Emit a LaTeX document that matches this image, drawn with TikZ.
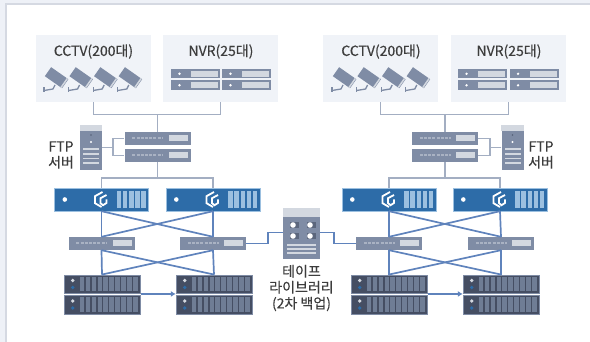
\documentclass[tikz,border=0pt]{standalone}
\usepackage{fontspec}
\setmainfont{Noto Sans CJK KR}[FakeBold=0.35]
\usetikzlibrary{arrows.meta}
\usetikzlibrary{positioning}
\usetikzlibrary{calc}

\definecolor{stripcol}{HTML}{EEF1F7}
\definecolor{edgecol}{HTML}{D5D9E2}
\definecolor{panelcol}{HTML}{F0F3F8}
\definecolor{greycol}{HTML}{7F8CA5}
\definecolor{palecol}{HTML}{D3D8E0}
\definecolor{linecol}{HTML}{A3AEC2}
\definecolor{bluecol}{HTML}{2D6CA8}
\definecolor{slotcol}{HTML}{9CC0E0}
\definecolor{wirecol}{HTML}{5F83BC}
\definecolor{darkcol}{HTML}{454E63}
\definecolor{baycol}{HTML}{6F7D95}
\definecolor{textcol}{HTML}{3D3D3D}

\tikzset{
	panel/.style={fill=panelcol,draw=none,minimum width=115pt,minimum height=67pt,inner sep=0pt},
	title/.style={text=textcol,font=\fontsize{14}{16}\selectfont,inner sep=0pt},
	caption/.style={text=textcol,font=\fontsize{14}{16}\selectfont,inner sep=0pt,align=center},
	greywire/.style={draw=linecol,line width=1.8pt},
	bluewire/.style={draw=wirecol,line width=1.7pt},
	switchbox/.style={fill=greycol,minimum width=66pt,minimum height=13pt,inner sep=0pt},
	bladebox/.style={fill=bluecol,draw=slotcol,line width=.4pt,minimum width=94pt,minimum height=23pt,inner sep=0pt},
	rackbox/.style={fill=darkcol,draw=greycol,line width=.4pt,minimum width=76pt,minimum height=18.5pt,inner sep=0pt},
	towerbox/.style={fill=greycol,minimum width=22pt,minimum height=45pt,inner sep=0pt},
	tapebox/.style={fill=greycol,minimum width=37pt,minimum height=51pt,inner sep=0pt}
}

% camera with its bracket
\newcommand{\camera}[2]{
	\begin{scope}[shift={(#1,#2)}]
		\fill[greycol,rotate=-35] (-11,-5.5) rectangle (10,5.5);
		\fill[palecol,rotate=-35] (8,-5.5) rectangle (9.5,5.5);
		\draw[greycol,line width=1.3pt] (-2,7) -- (-4,11) -- (-13,12.5);
		\draw[greycol,line width=1.3pt] (-13,9.5) -- (-13,14);
	\end{scope}
}
% small recorder
\newcommand{\recorder}[2]{
	\begin{scope}[shift={(#1,#2)}]
		\fill[greycol] (0,0) rectangle (49,9.5);
		\fill[white] (8.5,4.8) circle (1.3);
		\fill[palecol] (20,1.8) rectangle (47,7.7);
	\end{scope}
}
\newcommand{\switchbox}[3]{
	\node[switchbox] (#1) at (#2,#3) {};
	\fill[palecol] ($(#1.east)+(-22,-3)$) rectangle ($(#1.east)+(-3,3)$);
	\draw[palecol!50!greycol,line width=2pt,dash pattern=on 3pt off 1.2pt] ($(#1.west)+(8,0)$) -- ($(#1.west)+(39,0)$);
}
\newcommand{\bladebox}[3]{
	\node[bladebox] (#1) at (#2,#3) {};
	\fill[white] ($(#1.west)+(10.5,0)$) circle (2.3);
	\draw[white,line width=1.8pt] ($(#1.center)+(1,-7.5)$) -- ++(-7.5,4.2) -- ++(0,7) -- ++(6.5,3.8);
	\draw[white,line width=1.8pt] ($(#1.center)+(5,-4.5)$) -- ++(-6,3.2) -- ++(0,5) -- ++(2.5,2) -- ++(3.5,-2.2) -- ++(0,-3.5);
	\foreach \k in {0,1,2,3,4}
		\fill[slotcol] ($(#1.east)+(-32+\k*6.15,-8.5)$) rectangle ++(4.6,17);
}
\newcommand{\rackbox}[3]{
	\node[rackbox] (#1) at (#2,#3) {};
	\fill[palecol] ($(#1.west)+(9,-3.5)$) circle (1.9);
	\fill[bluecol] ($(#1.west)+(9,3.5)$) circle (1.9);
	\foreach \k in {0,...,9}
		\fill[baycol] ($(#1.west)+(16+\k*5.9,-7.2)$) rectangle ++(4.6,14.4);
}
\newcommand{\towerbox}[3]{
	\node[towerbox] (#1) at (#2,#3) {};
	\fill[palecol] ($(#1.north west)$) rectangle ($(#1.north east)+(0,6.5)$);
	\fill[darkcol!70!greycol] ($(#1.center)+(0,-12.5)$) circle (.8);
	\fill[white] ($(#1.center)+(0,-5.5)$) circle (1.1);
	\foreach \k in {0,1,2,3}
		\fill[palecol] ($(#1.center)+(-8,1+\k*4.6)$) rectangle ++(16,1.7);
}

\begin{document}
\begin{tikzpicture}[x=1pt,y=-1pt]
	\useasboundingbox (0,0) rectangle (590,342);
	% frame strips
	\fill[stripcol] (0,0) rectangle (590,3.5);
	\fill[stripcol] (0,0) rectangle (5,342);
	\fill[edgecol] (5,3.5) rectangle (590,5.5);
	\fill[edgecol] (5,3.5) rectangle (7,342);

	% panels
	\node[panel] (cctvL) at (93.5,68.5) {};
	\node[panel] (nvrL) at (220.5,68.5) {};
	\node[panel] (cctvR) at (380.5,68.5) {};
	\node[panel] (nvrR) at (508.5,68.5) {};
	\node[title] (cctvLt) at (93.5,51.5) {CCTV(200대)};
	\node[title] (nvrLt) at (221,51.5) {NVR(25대)};
	\node[title] (cctvRt) at (381,51.5) {CCTV(200대)};
	\node[title] (nvrRt) at (509,51.5) {NVR(25대)};
	\foreach \x in {0,1,2,3} {
		\camera{57+\x*24.6}{78}
		\camera{345+\x*24.6}{78}
	}
	\foreach \x/\y in {171/69,222/69,171/80.5,222/80.5,458/69,509.5/69,458/80.5,509.5/80.5} {
		\recorder{\x}{\y}
	}

	% switches, servers
	\switchbox{swaL}{157.5}{138.5}
	\switchbox{swbL}{157.5}{155.5}
	\switchbox{swaR}{445}{138.5}
	\switchbox{swbR}{445}{155.5}
	\towerbox{ftpL}{91}{147.5}
	\towerbox{ftpR}{512.5}{147.5}
	\bladebox{bladeaL}{101.5}{199.5}
	\bladebox{bladebL}{213}{199.5}
	\bladebox{bladeaR}{389}{199.5}
	\bladebox{bladebR}{500}{199.5}
	\switchbox{lanaL}{101.5}{243.5}
	\switchbox{lanbL}{213}{243.5}
	\switchbox{lanaR}{389}{243.5}
	\switchbox{lanbR}{501}{243.5}
	\rackbox{rackaL}{102}{284}
	\rackbox{rackbL}{102}{304.5}
	\rackbox{rackcL}{214}{284}
	\rackbox{rackdL}{214}{304.5}
	\rackbox{rackaR}{389}{284}
	\rackbox{rackbR}{389}{304.5}
	\rackbox{rackcR}{501}{284}
	\rackbox{rackdR}{501}{304.5}

	% tape library
	\node[tapebox] (tape) at (301.5,233.5) {};
	\fill[palecol] (tape.north west) rectangle ($(tape.north east)+(0,9)$);
	\foreach \x/\y in {293/225,310/225,293/236,310/236} {
		\fill[darkcol!60!greycol] (\x-3.5,\y-3) rectangle (\x+6,\y+3);
		\fill[white] (\x,\y) circle (2.8);
	}
	\foreach \y in {244,248,252} {
		\fill[palecol] (287,\y) rectangle (316,\y+2);
	}

	% grey wires
	\draw[greywire] (cctvL.south) |- (157.5,114.5) -| (nvrL.south);
	\draw[greywire] (157.5,114.5) -- (swaL.north);
	\draw[greywire] (swbL.south) -- (157.5,178);
	\draw[greywire] (bladeaL.north) |- (157.5,178) -| (bladebL.north);
	\draw[greywire] (ftpL.east) -- ++(11,0) |- (swaL.west);
	\draw[greywire] (ftpL.east) -- ++(11,0) |- (swbL.west);
	\draw[greywire] (cctvR.south) |- (445,114.5) -| (nvrR.south);
	\draw[greywire] (445,114.5) -- (swaR.north);
	\draw[greywire] (swbR.south) -- (445,178);
	\draw[greywire] (bladeaR.north) |- (445,178) -| (bladebR.north);
	\draw[greywire] (ftpR.west) -- ++(-11,0) |- (swaR.east);
	\draw[greywire] (ftpR.west) -- ++(-11,0) |- (swbR.east);

	% blue wires
	\foreach \side in {L,R} {
		\draw[bluewire] (bladea\side.south) -- (lana\side.north);
		\draw[bluewire] (bladeb\side.south) -- (lanb\side.north);
		\draw[bluewire] (bladea\side.south) -- (lanb\side.north);
		\draw[bluewire] (bladeb\side.south) -- (lana\side.north);
		\draw[bluewire] (lana\side.south) -- (racka\side.north);
		\draw[bluewire] (lanb\side.south) -- (rackc\side.north);
		\draw[bluewire] (lana\side.south) -- (rackc\side.north);
		\draw[bluewire] (lanb\side.south) -- (racka\side.north);
		\draw[bluewire,-{Latex[length=5pt,width=6pt]}] ($(racka\side.south east)+(1,.5)$) -- ($(rackc\side.south west)+(0,.5)$);
	}
	\draw[bluewire] (lanbL.east) -- (268,243.5) |- (tape.west |- 0,232.5);
	\draw[bluewire] (lanaR.west) -- (334,243.5) |- (tape.east |- 0,232.5);

	% labels
	\node[caption] (ftpLt) at (61,155) {FTP\\서버};
	\node[caption] (ftpRt) at (541,155) {FTP\\서버};
	\node[caption] (tapet) at (301.5,288) {테이프\\라이브러리\\(2차 백업)};
\end{tikzpicture}
\end{document}
